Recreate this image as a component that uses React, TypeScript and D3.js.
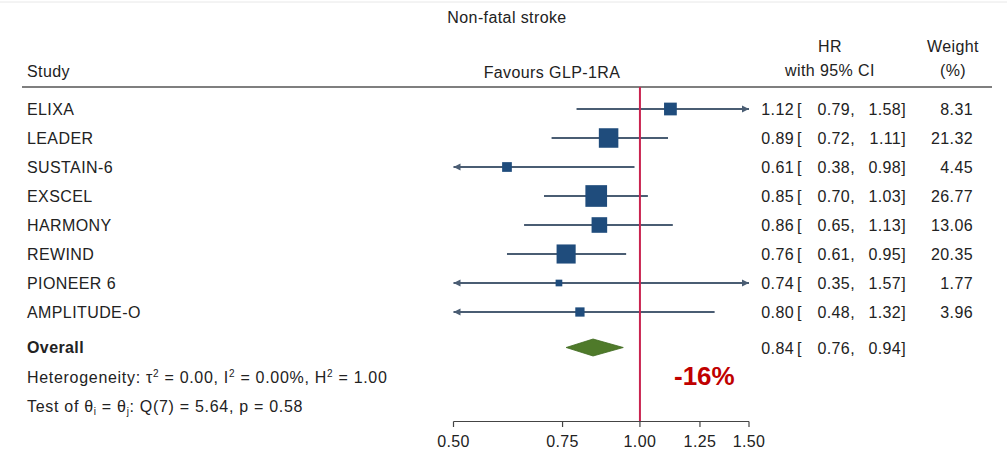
import React from "react";
import * as d3 from "d3";

const studies = ["ELIXA", "LEADER", "SUSTAIN-6", "EXSCEL", "HARMONY", "REWIND", "PIONEER 6", "AMPLITUDE-O"];
const hr = [1.12, 0.89, 0.61, 0.85, 0.86, 0.76, 0.74, 0.8];
const lower = [0.79, 0.72, 0.38, 0.7, 0.65, 0.61, 0.35, 0.48];
const upper = [1.58, 1.11, 0.98, 1.03, 1.13, 0.95, 1.57, 1.32];
const weights = [8.31, 21.32, 4.45, 26.77, 13.06, 20.35, 1.77, 3.96];
const overallHR = 0.84;
const overallLower = 0.76;
const overallUpper = 0.94;
const tickValues = [0.5, 0.75, 1.0, 1.25, 1.5];
const title = "Non-fatal stroke";
const reductionLabel = "-16%";

const FONT = "'Liberation Sans', Arial, Helvetica, sans-serif";
const W = 1007;
const H = 459;

export default function App() {
  const x = d3.scaleLog().domain([0.5, 1.5]).range([453.5, 749]);
  const y = d3.scaleLinear().domain([0, studies.length - 1]).range([109, 312]);
  const f2 = d3.format(".2f");
  const sizeScale = (w: number) => 1.5 + 3.9 * Math.sqrt(w);
  const [xmin, xmax] = x.domain();
  const lineColor = "#4a5d73";
  const boxColor = "#1f4c7c";
  const textStyle: React.CSSProperties = { fontFamily: FONT, fontSize: 16, letterSpacing: 0.4, fill: "#222" };
  const statStyle: React.CSSProperties = { ...textStyle, letterSpacing: 0.7 };
  const axisY = 421.5;
  const overallY = 347.5;

  const arrow = (xTip: number, yc: number, dir: number, key: string) => (
    <path key={key} d={`M${xTip},${yc} L${xTip - dir * 7},${yc - 3.5} L${xTip - dir * 7},${yc + 3.5} Z`} fill={lineColor} />
  );

  const numCols = (h: number, lo: number, hi: number, yc: number, key: string) => (
    <g key={key} style={textStyle}>
      <text x={794} y={yc + 6} textAnchor="end">{f2(h)}</text>
      <text x={797} y={yc + 6}>[</text>
      <text x={855} y={yc + 6} textAnchor="end">{f2(lo)},</text>
      <text x={906} y={yc + 6} textAnchor="end">{f2(hi)}]</text>
    </g>
  );

  return (
    <svg width={W} height={H} style={{ position: "absolute", left: 0, top: 0, background: "#fff" }}>
      <line x1={0} x2={W} y1={2} y2={2} stroke="#e8e8e8" strokeWidth={1} />
      <text x={507} y={23} textAnchor="middle" style={textStyle}>{title}</text>
      <text x={27} y={77} style={textStyle}>Study</text>
      <text x={552} y={78} textAnchor="middle" style={textStyle}>Favours GLP-1RA</text>
      <text x={830} y={52} textAnchor="middle" style={textStyle}>HR</text>
      <text x={830} y={76} textAnchor="middle" style={textStyle}>with 95% CI</text>
      <text x={953} y={52} textAnchor="middle" style={textStyle}>Weight</text>
      <text x={953} y={76} textAnchor="middle" style={textStyle}>(%)</text>
      <line x1={22} x2={992} y1={87} y2={87} stroke="#555" strokeWidth={1.5} />

      {studies.map((s, i) => {
        const yc = y(i);
        const lo = Math.max(lower[i], xmin);
        const hi = Math.min(upper[i], xmax);
        const side = sizeScale(weights[i]);
        return (
          <g key={s}>
            <text x={27} y={yc + 6} style={textStyle}>{s}</text>
            <line x1={x(lo)} x2={x(hi)} y1={yc} y2={yc} stroke={lineColor} strokeWidth={1.8} />
            {lower[i] < xmin && arrow(x(xmin), yc, -1, "la")}
            {upper[i] > xmax && arrow(x(xmax), yc, 1, "ra")}
            <rect x={x(hr[i]) - side / 2} y={yc - side / 2} width={side} height={side} fill={boxColor} />
            {numCols(hr[i], lower[i], upper[i], yc, "n" + i)}
            <text x={973} y={yc + 6} textAnchor="end" style={textStyle}>{f2(weights[i])}</text>
          </g>
        );
      })}

      <text x={27} y={353} style={{ ...textStyle, fontWeight: "bold" }}>Overall</text>
      <path
        d={`M${x(overallLower)},${overallY} L${x(overallHR)},${overallY - 8.5} L${x(overallUpper)},${overallY} L${x(overallHR)},${overallY + 8.5} Z`}
        fill="#4f7a2a"
        stroke="#3f6a20"
        strokeWidth={0.8}
      />
      {numCols(overallHR, overallLower, overallUpper, overallY, "ov")}

      <text x={27} y={383} style={statStyle}>
        Heterogeneity: τ<tspan dy={-6} fontSize={10}>2</tspan>
        <tspan dy={6}> = 0.00, I</tspan>
        <tspan dy={-6} fontSize={10}>2</tspan>
        <tspan dy={6}> = 0.00%, H</tspan>
        <tspan dy={-6} fontSize={10}>2</tspan>
        <tspan dy={6}> = 1.00</tspan>
      </text>
      <text x={27} y={412} style={statStyle}>
        Test of θ<tspan dy={3} fontSize={10}>i</tspan>
        <tspan dy={-3}> = θ</tspan>
        <tspan dy={3} fontSize={10}>j</tspan>
        <tspan dy={-3}>: Q(7) = 5.64, p = 0.58</tspan>
      </text>

      <line x1={x(1)} x2={x(1)} y1={87} y2={axisY} stroke="#c9234f" strokeWidth={2} />

      <line x1={x(xmin)} x2={x(xmax)} y1={axisY} y2={axisY} stroke="#444" strokeWidth={1.2} />
      {tickValues.map((t) => (
        <g key={t}>
          <line x1={x(t)} x2={x(t)} y1={axisY} y2={axisY + 5.5} stroke="#444" strokeWidth={1.2} />
          <text x={x(t)} y={447} textAnchor="middle" style={textStyle}>{f2(t)}</text>
        </g>
      ))}

      <text x={674} y={385} style={{ fontFamily: FONT, fontSize: 26, fontWeight: "bold", fill: "#c00000" }}>{reductionLabel}</text>
    </svg>
  );
}
